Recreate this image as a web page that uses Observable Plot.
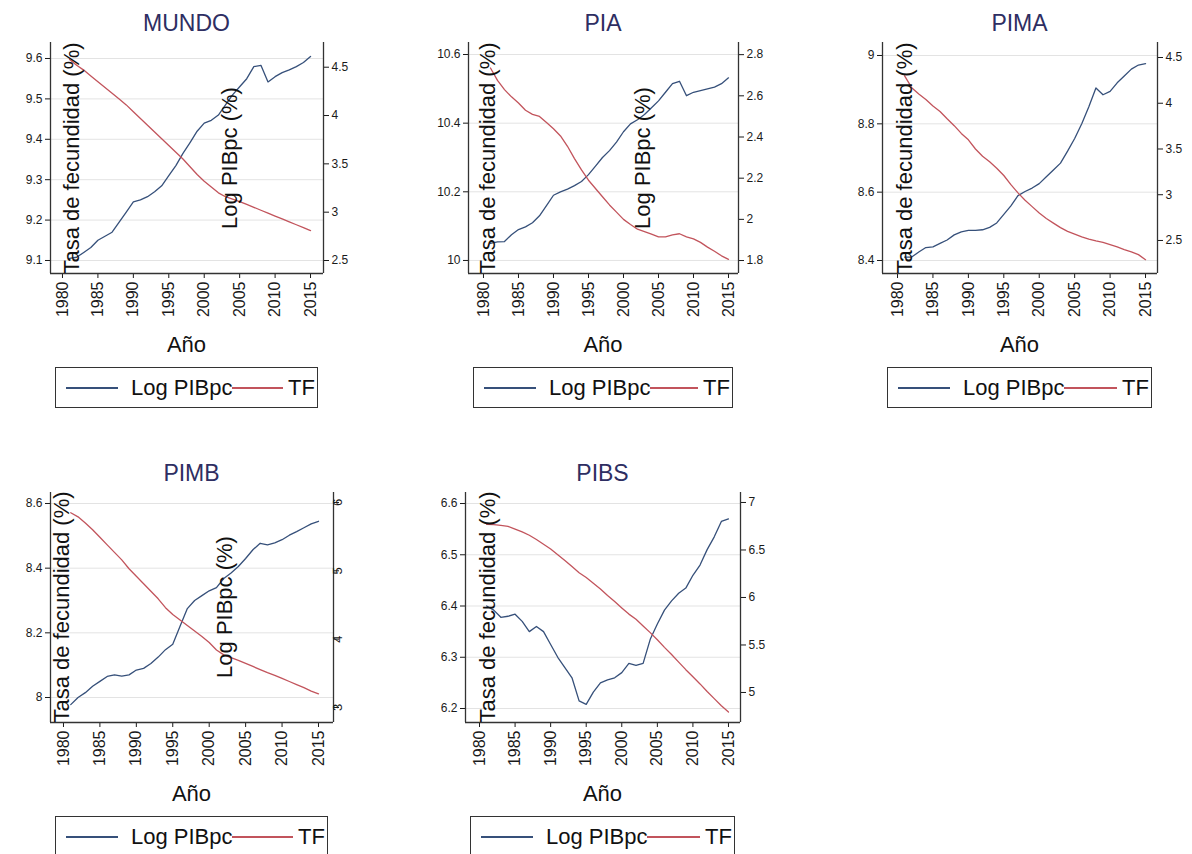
<!DOCTYPE html>
<html>
<head>
<meta charset="utf-8">
<script src="https://cdn.jsdelivr.net/npm/d3@7"></script>
<script src="https://cdn.jsdelivr.net/npm/@observablehq/plot@0.6"></script>
<style>
html,body{margin:0;padding:0;background:#fff;}
#chart{position:relative;width:1192px;height:854px;overflow:hidden;background:#fff;font-family:'Liberation Sans',Arial,Helvetica,sans-serif;color:#1a1a1a;}
#chart svg{position:absolute;}
.title{position:absolute;transform:translate(-50%,-50%);font-size:23px;color:#2e2e62;white-space:nowrap;line-height:1;}
.vlab{position:absolute;transform:translate(-50%,-50%) rotate(-90deg);font-size:22px;white-space:nowrap;line-height:1;color:#111;}
.xlab{position:absolute;transform:translate(-50%,-50%);font-size:22px;white-space:nowrap;line-height:1;color:#111;}
.legend{position:absolute;border:1.5px solid #333;box-sizing:border-box;overflow:hidden;height:41px;background:#fff;}
.legend .sw{position:absolute;top:19px;height:1.5px;}
.legend .lt{position:absolute;top:50%;transform:translateY(-50%);font-size:22px;line-height:1;white-space:nowrap;color:#111;}
</style>
</head>
<body>
<div id="chart"></div>
<script>
// ---------------- data ----------------
const years = [1981,1982,1983,1984,1985,1986,1987,1988,1989,1990,
               1991,1992,1993,1994,1995,1996,1997,1998,1999,2000,
               2001,2002,2003,2004,2005,2006,2007,2008,2009,2010,
               2011,2012,2013,2014,2015];
const xTicks = [1980,1985,1990,1995,2000,2005,2010,2015];
const seriesNames = ["Log PIBpc","TF"];
const panelNames = ["MUNDO","PIA","PIMA","PIMB","PIBS"];
const leftAxisTitle = "Tasa de fecundidad (%)";
const rightAxisTitle = "Log PIBpc (%)";
const xAxisTitle = "Año";

const mundoGdp = [9.105,9.108,9.120,9.132,9.150,9.160,9.170,9.195,9.220,9.245,
                  9.250,9.258,9.270,9.285,9.310,9.335,9.365,9.392,9.420,9.440,
                  9.447,9.460,9.485,9.510,9.530,9.550,9.580,9.583,9.542,9.555,
                  9.565,9.572,9.580,9.590,9.605];
const mundoTf  = [4.58,4.52,4.47,4.41,4.35,4.29,4.23,4.17,4.11,4.04,
                  3.97,3.90,3.83,3.76,3.69,3.62,3.55,3.47,3.39,3.32,
                  3.26,3.20,3.16,3.135,3.11,3.08,3.05,3.02,2.99,2.96,
                  2.93,2.90,2.87,2.84,2.81];
const piaGdp   = [10.050,10.054,10.055,10.075,10.090,10.098,10.110,10.130,10.160,10.190,
                  10.200,10.208,10.218,10.230,10.250,10.275,10.300,10.320,10.345,10.375,
                  10.398,10.410,10.425,10.445,10.465,10.490,10.515,10.522,10.480,10.490,
                  10.495,10.500,10.505,10.515,10.532];
const piaTf    = [2.735,2.675,2.63,2.595,2.565,2.53,2.51,2.50,2.47,2.44,
                  2.405,2.355,2.295,2.24,2.19,2.15,2.11,2.07,2.035,2.00,
                  1.975,1.952,1.94,1.928,1.915,1.915,1.925,1.93,1.915,1.905,
                  1.888,1.865,1.845,1.823,1.806];
const pimaGdp  = [8.410,8.410,8.425,8.438,8.440,8.450,8.460,8.475,8.484,8.488,
                  8.488,8.490,8.497,8.510,8.535,8.560,8.590,8.602,8.612,8.625,
                  8.645,8.665,8.685,8.720,8.757,8.800,8.850,8.905,8.885,8.895,
                  8.920,8.940,8.960,8.972,8.976];
const pimaTf   = [4.30,4.17,4.10,4.04,3.97,3.91,3.83,3.755,3.67,3.60,
                  3.50,3.42,3.36,3.29,3.21,3.11,3.02,2.94,2.87,2.80,
                  2.74,2.69,2.64,2.60,2.57,2.54,2.515,2.495,2.48,2.455,
                  2.43,2.40,2.375,2.345,2.29];
const pimbGdp  = [7.978,8.000,8.015,8.035,8.050,8.065,8.070,8.066,8.070,8.085,
                  8.090,8.105,8.125,8.148,8.165,8.220,8.275,8.300,8.315,8.330,
                  8.340,8.368,8.385,8.405,8.430,8.457,8.477,8.472,8.478,8.488,
                  8.502,8.513,8.525,8.537,8.545];
const pimbTf   = [5.85,5.79,5.70,5.60,5.49,5.38,5.27,5.16,5.03,4.92,
                  4.81,4.70,4.59,4.46,4.36,4.28,4.20,4.12,4.04,3.95,
                  3.84,3.77,3.73,3.69,3.645,3.60,3.555,3.51,3.47,3.425,
                  3.38,3.335,3.29,3.24,3.20];
const pibsGdp  = [6.400,6.392,6.378,6.380,6.384,6.370,6.350,6.360,6.350,6.325,
                  6.300,6.280,6.260,6.215,6.208,6.232,6.250,6.256,6.260,6.270,
                  6.288,6.284,6.288,6.335,6.365,6.392,6.410,6.425,6.435,6.460,
                  6.480,6.510,6.535,6.565,6.570];
const pibsTf   = [6.77,6.766,6.758,6.748,6.72,6.69,6.655,6.61,6.56,6.51,
                  6.45,6.39,6.325,6.26,6.21,6.15,6.09,6.02,5.957,5.89,
                  5.825,5.77,5.70,5.63,5.555,5.475,5.40,5.32,5.24,5.165,
                  5.09,5.01,4.935,4.86,4.795];

const mundoTicksL = [9.1,9.2,9.3,9.4,9.5,9.6];
const mundoTicksR = [2.5,3,3.5,4,4.5];
const piaTicksL   = [10,10.2,10.4,10.6];
const piaTicksR   = [1.8,2,2.2,2.4,2.6,2.8];
const pimaTicksL  = [8.4,8.6,8.8,9];
const pimaTicksR  = [2.5,3,3.5,4,4.5];
const pimbTicksL  = [8,8.2,8.4,8.6];
const pimbTicksR  = [3,4,5,6];
const pibsTicksL  = [6.2,6.3,6.4,6.5,6.6];
const pibsTicksR  = [5,5.5,6,6.5,7];

// ---------------- layout ----------------
const BLUE = "#36507a", RED = "#c2545c", AXIS = "#333";
const ML = 50, MR = 50, MT = 6, MB = 60;
const panels = [
  {name: panelNames[0], gdp: mundoGdp, tf: mundoTf, tL: mundoTicksL, tR: mundoTicksR,
   f: {l: 50, t: 42, r: 323, b: 273}, xDom: [1978.31, 2016.83], yL: [9.0678, 9.6396], yR: [2.3655, 4.7556],
   tasaX: 72, logX: 230},
  {name: panelNames[1], gdp: piaGdp, tf: piaTf, tL: piaTicksL, tR: piaTicksR,
   f: {l: 468, t: 42, r: 738, b: 273}, xDom: [1977.86, 2016.43], yL: [9.962, 10.635], yR: [1.737, 2.859],
   tasaX: 488, logX: 643},
  {name: panelNames[2], gdp: pimaGdp, tf: pimaTf, tL: pimaTicksL, tR: pimaTicksR,
   f: {l: 882, t: 42, r: 1157, b: 273}, xDom: [1977.88, 2016.69], yL: [8.362, 9.038], yR: [2.139, 4.664],
   tasaX: 905, logX: null},
  {name: panelNames[3], gdp: pimbGdp, tf: pimbTf, tL: pimbTicksL, tR: pimbTicksR, rotR: true,
   f: {l: 50, t: 492, r: 333, b: 722}, xDom: [1978.22, 2017.06], yL: [7.9227, 8.634], yR: [2.78, 6.146],
   tasaX: 62, logX: 225},
  {name: panelNames[4], gdp: pibsGdp, tf: pibsTf, tL: pibsTicksL, tR: pibsTicksR,
   f: {l: 465, t: 492, r: 740, b: 722}, xDom: [1978.03, 2016.69], yL: [6.1727, 6.6215], yR: [4.684, 7.105],
   tasaX: 488, logX: null}
];

const chart = document.getElementById("chart");
const fmt = d => String(Math.round(d * 10) / 10);
const svgStyle = {fontFamily: "'Liberation Sans', Arial, Helvetica, sans-serif", fontSize: "12px", color: "#1a1a1a", background: "transparent", overflow: "visible"};

function addDiv(cls, text, x, y) {
  const d = document.createElement("div");
  d.className = cls; d.textContent = text;
  d.style.left = x + "px"; d.style.top = y + "px";
  chart.appendChild(d);
  return d;
}

for (const p of panels) {
  const data = years.map((yr, i) => ({year: yr, gdp: p.gdp[i], tf: p.tf[i]}));
  const W = p.f.r - p.f.l, H = p.f.b - p.f.t;
  const common = {width: W + ML + MR, height: H + MT + MB,
    marginLeft: ML, marginRight: MR, marginTop: MT, marginBottom: MB, style: svgStyle};

  const main = Plot.plot({
    ...common,
    x: {domain: p.xDom},
    y: {domain: p.yL},
    marks: [
      Plot.gridY(p.tL, {stroke: "#e3e3e3", strokeOpacity: 1}),
      Plot.axisY(p.tL, {anchor: "left", tickSize: 5, tickPadding: 3, fontSize: 12, label: null, tickFormat: fmt}),
      Plot.axisX(xTicks, {anchor: "bottom", tickSize: 5, tickPadding: 3, tickRotate: -90, fontSize: 16, label: null, tickFormat: d => String(d)}),
      Plot.ruleX(p.xDom, {stroke: AXIS, strokeWidth: 1.3}),
      Plot.ruleY([p.yL[0]], {stroke: AXIS, strokeWidth: 1.3}),
      Plot.line(data, {x: "year", y: "gdp", stroke: BLUE, strokeWidth: 1.3})
    ]
  });
  main.style.left = (p.f.l - ML) + "px";
  main.style.top = (p.f.t - MT) + "px";
  chart.appendChild(main);

  const over = Plot.plot({
    ...common,
    x: {domain: p.xDom, axis: null},
    y: {domain: p.yR},
    marks: [
      Plot.axisY(p.tR, {anchor: "right", tickSize: 5, tickPadding: 3, fontSize: p.rotR ? 13 : 12, label: null, tickFormat: fmt, tickRotate: p.rotR ? -90 : 0}),
      Plot.line(data, {x: "year", y: "tf", stroke: RED, strokeWidth: 1.3})
    ]
  });
  over.style.left = (p.f.l - ML) + "px";
  over.style.top = (p.f.t - MT) + "px";
  chart.appendChild(over);

  const cx = (p.f.l + p.f.r) / 2, cy = (p.f.t + p.f.b) / 2;
  addDiv("title", p.name, cx, p.f.t - 19);
  addDiv("vlab", leftAxisTitle, p.tasaX, cy);
  if (p.logX !== null) addDiv("vlab", rightAxisTitle, p.logX, cy);
  addDiv("xlab", xAxisTitle, cx, p.f.b + 72);

  // legend
  const lgW = W - 10;
  const lg = document.createElement("div");
  lg.className = "legend";
  lg.style.left = (p.f.l + 5) + "px";
  lg.style.width = lgW + "px";
  lg.style.top = (p.f.b + 94) + "px";
  const sw1 = document.createElement("div"); sw1.className = "sw";
  sw1.style.left = "10px"; sw1.style.width = "52px"; sw1.style.background = BLUE;
  const t1 = document.createElement("span"); t1.className = "lt"; t1.style.left = "75px"; t1.textContent = seriesNames[0];
  const sw2 = document.createElement("div"); sw2.className = "sw";
  sw2.style.left = "176px"; sw2.style.width = (lgW - 212) + "px"; sw2.style.background = RED;
  const t2 = document.createElement("span"); t2.className = "lt"; t2.style.left = (lgW - 31) + "px"; t2.textContent = seriesNames[1];
  lg.append(sw1, t1, sw2, t2);
  chart.appendChild(lg);
}
</script>
</body>
</html>
